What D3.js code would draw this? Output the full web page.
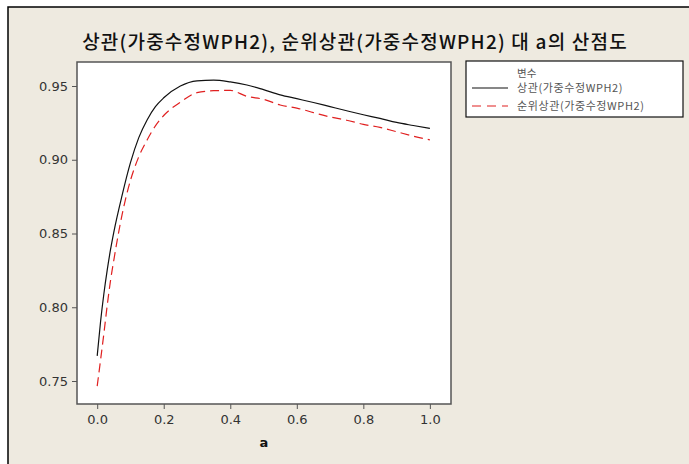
<!DOCTYPE html>
<html><head><meta charset="utf-8">
<script src="https://cdn.jsdelivr.net/npm/d3@7"></script>
<style>body{margin:0;background:#fff}svg{display:block}</style>
</head><body><svg id="c" width="689" height="464"></svg>
<script>
const titleText = "상관(가중수정WPH2), 순위상관(가중수정WPH2) 대 a의 산점도";
const xLabel = "a";
const legendTitle = "변수";
const seriesNames = ["상관(가중수정WPH2)", "순위상관(가중수정WPH2)"];
const aValues = [0,0.01,0.02,0.03,0.04,0.05,0.075,0.1,0.125,0.15,0.175,0.2,0.25,0.3,0.35,0.4,0.45,0.5,0.55,0.6,0.65,0.7,0.75,0.8,0.85,0.9,0.95,1.0];
const corr = [0.767,0.790,0.809,0.825,0.839,0.851,0.876,0.898,0.915,0.927,0.936,0.942,0.950,0.9535,0.9540,0.9528,0.9507,0.9475,0.944,0.9414,0.9388,0.9360,0.9332,0.9305,0.928,0.9253,0.9232,0.9212];
const rankCorr = [0.7465,0.764,0.782,0.801,0.818,0.832,0.863,0.886,0.902,0.9134,0.923,0.930,0.939,0.9455,0.9468,0.9470,0.9430,0.941,0.9371,0.935,0.932,0.929,0.9268,0.924,0.922,0.919,0.916,0.9135];
const xTicks = [0,0.2,0.4,0.6,0.8,1.0];
const yTicks = [0.75,0.80,0.85,0.90,0.95];

const svg = d3.select("#c");
const bg = "#eeeae0";
svg.append("rect").attr("x",8).attr("y",7).attr("width",700).attr("height",470).attr("fill",bg).attr("stroke","#000").attr("stroke-width",1.5);

const L=77,R=451,T=62,B=404;
const x = d3.scaleLinear().domain([-0.0607,1.0635]).range([L,R]);
const y = d3.scaleLinear().domain([0.75,0.95]).range([381,86]);

svg.append("rect").attr("x",L).attr("y",T).attr("width",R-L).attr("height",B-T).attr("fill","#fff").attr("stroke","#555").attr("stroke-width",1.5);

const font = "'DejaVu Sans', sans-serif";
const ya = svg.append("g").attr("transform",`translate(${L},0)`)
  .call(d3.axisLeft(y).tickValues(yTicks).tickFormat(d3.format(".2f")).tickSize(5).tickSizeOuter(0));
const xa = svg.append("g").attr("transform",`translate(0,${B})`)
  .call(d3.axisBottom(x).tickValues(xTicks).tickFormat(d3.format(".1f")).tickSize(5).tickSizeOuter(0));
[ya,xa].forEach(g=>{
  g.select(".domain").remove();
  g.selectAll("line").attr("stroke","#555");
  g.selectAll("text").attr("font-family",font).attr("font-size",13).attr("fill","#333");
});
ya.selectAll("text").attr("x",-9);
xa.selectAll("text").attr("y",11);

const line = d3.line().x((d,i)=>x(aValues[i])).y(d=>y(d)).curve(d3.curveMonotoneX);
svg.append("path").datum(corr).attr("d",line).attr("fill","none").attr("stroke","#111").attr("stroke-width",1.2);
svg.append("path").datum(rankCorr).attr("d",line).attr("fill","none").attr("stroke","#e02020").attr("stroke-width",1.2).attr("stroke-dasharray","9,5");

svg.append("text").attr("x",355).attr("y",49).attr("text-anchor","middle").attr("font-family","'Noto Sans CJK KR', sans-serif").attr("font-size",19).attr("letter-spacing",1.2).attr("font-weight","500").attr("fill","#111").text(titleText);
svg.append("text").attr("x",264).attr("y",447).attr("text-anchor","middle").attr("font-family",font).attr("font-weight","bold").attr("font-size",13).attr("fill","#111").text(xLabel);

// legend
const lg = svg.append("g");
lg.append("rect").attr("x",466).attr("y",61).attr("width",217).attr("height",56).attr("fill","#fff").attr("stroke","#111").attr("stroke-width",1.2);
const kr = "'Noto Sans CJK KR', sans-serif";
lg.append("text").attr("x",517).attr("y",77).attr("font-family",kr).attr("font-size",10.5).attr("fill","#555").text(legendTitle);
const styles=[{c:"#111",d:null},{c:"#e02020",d:"9,6"}];
seriesNames.forEach((s,i)=>{
  const yy = 88 + i*18;
  lg.append("line").attr("x1",472).attr("x2",508).attr("y1",yy).attr("y2",yy).attr("stroke",styles[i].c).attr("stroke-width",1.2).attr("stroke-dasharray",styles[i].d);
  lg.append("text").attr("x",517).attr("y",yy+4).attr("font-family",kr).attr("font-size",11).attr("letter-spacing",0.6).attr("fill","#555").text(s);
});
</script></body></html>
